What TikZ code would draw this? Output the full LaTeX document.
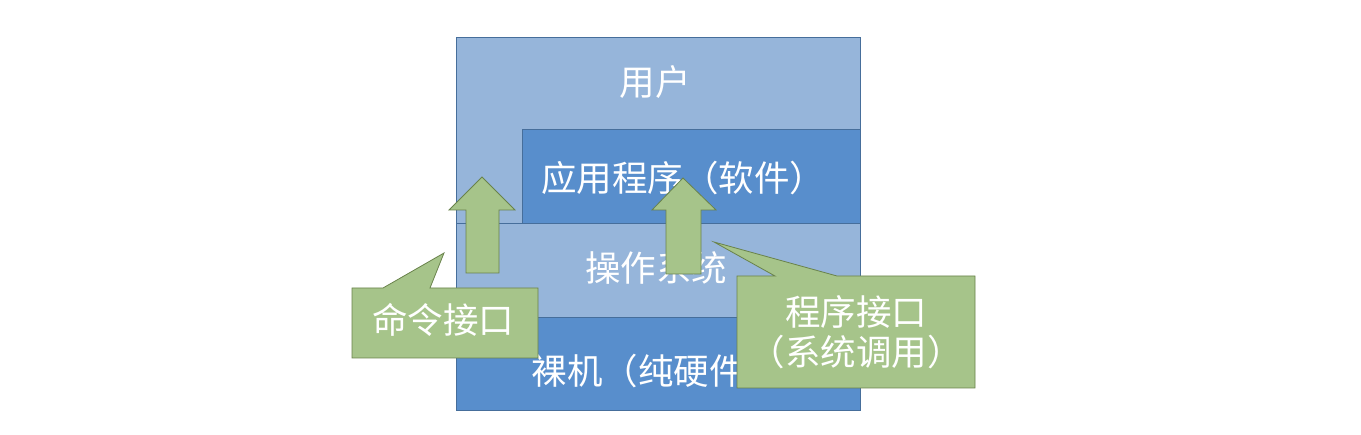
\documentclass[tikz,border=0pt]{standalone}
\usepackage{fontspec}
\newfontfamily\cjk{Noto Sans CJK SC}
\definecolor{lightblue}{RGB}{150,181,218}
\definecolor{darkblue}{RGB}{88,142,204}
\definecolor{blueline}{RGB}{70,110,155}
\definecolor{greenfill}{RGB}{166,196,138}
\definecolor{greenline}{RGB}{105,130,75}
\begin{document}
\begin{tikzpicture}[x=1pt,y=-1pt,
  layer/.style={draw=blueline, line width=0.8pt},
  lbl/.style={text=white, font=\cjk\fontsize{35.5}{40}\selectfont, inner sep=0pt, align=center},
  greenshape/.style={fill=greenfill, draw=greenline, line width=0.8pt, line join=miter}]
\useasboundingbox (0,0) rectangle (1361,435);
% layers
\draw[layer, fill=lightblue] (456,37) rectangle (860,223);
\draw[layer, fill=darkblue] (522,129) rectangle (860,223);
\draw[layer, fill=lightblue] (456,223) rectangle (860,317);
\draw[layer, fill=darkblue] (456,317) rectangle (860,410);
\node[lbl] (user) at (655,82) {用户};
\node[lbl] (app) at (683,178) {应用程序（软件）};
\node[lbl] (os) at (656,268) {操作系统};
\node[lbl] (hw) at (656,371) {裸机（纯硬件）};
% arrows
\draw[greenshape] (466,273) -- (466,210) -- (449,210) -- (482,177) -- (515,210) -- (499,210) -- (499,273) -- cycle;
\draw[greenshape] (666,274) -- (666,210) -- (652,210) -- (683,178) -- (716,210) -- (701,210) -- (701,274) -- cycle;
% callouts
\draw[greenshape] (352,288) -- (383,288) -- (444,253) -- (430,288) -- (538,288) -- (538,358) -- (352,358) -- cycle;
\node[lbl] (cmd) at (443,320) {命令接口};
\draw[greenshape] (737,276) -- (775,276) -- (714,242) -- (837,276) -- (975,276) -- (975,388) -- (737,388) -- cycle;
\node[lbl] (prog) at (856,332) {程序接口\\（系统调用）};
\end{tikzpicture}
\end{document}
